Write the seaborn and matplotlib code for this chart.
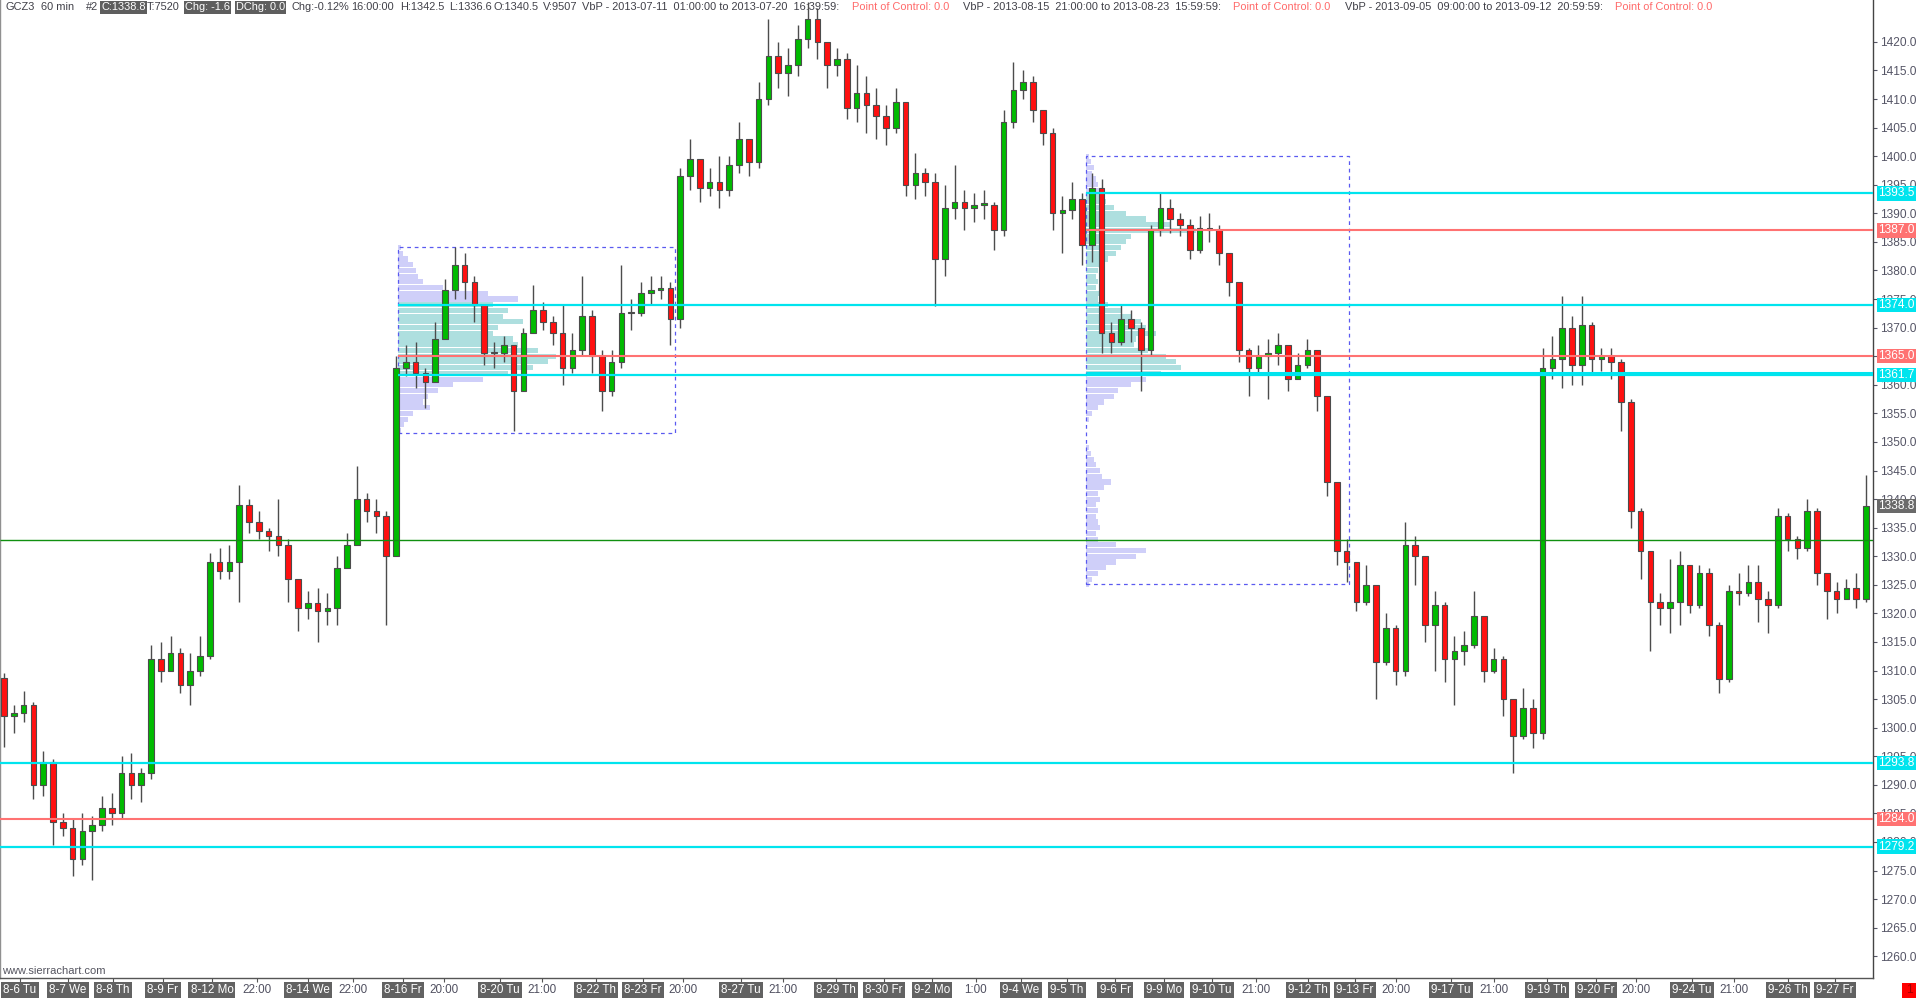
import numpy as np
import pandas as pd
import matplotlib
matplotlib.use("Agg")
import matplotlib.pyplot as plt
import seaborn as sns
from matplotlib.transforms import blended_transform_factory
from matplotlib.patches import Rectangle

# ---------------- data ----------------
first_open = 1308.7
closes = [1302.0, 1302.5, 1304.0, 1290.0, 1294.0, 1283.5, 1282.5, 1277.0, 1282.0, 1283.0,
          1286.0, 1285.0, 1292.0, 1290.0, 1292.0, 1312.0, 1310.0, 1313.0, 1307.5, 1310.0,
          1312.5, 1329.0, 1327.5, 1329.0, 1339.0, 1336.0, 1334.5, 1333.5, 1332.0, 1326.0,
          1321.0, 1321.8, 1320.5, 1321.0, 1328.0, 1332.0, 1340.0, 1338.0, 1337.0, 1330.0,
          1363.0, 1364.0, 1362.0, 1360.5, 1368.0, 1376.5, 1381.0, 1378.0, 1374.0, 1365.5,
          1365.5, 1367.0, 1359.0, 1369.0, 1373.0, 1371.0, 1369.0, 1363.0, 1366.0, 1372.0,
          1365.0, 1359.0, 1364.0, 1372.5, 1372.5, 1376.0, 1376.5, 1377.0, 1371.5, 1396.5,
          1399.5, 1394.5, 1395.5, 1394.0, 1398.5, 1403.0, 1399.0, 1410.0, 1417.5, 1414.5,
          1416.0, 1420.5, 1424.0, 1420.0, 1416.0, 1417.0, 1408.5, 1411.0, 1409.0, 1407.0,
          1405.0, 1409.5, 1395.0, 1397.0, 1395.5, 1382.0, 1391.0, 1392.0, 1391.0, 1391.5,
          1391.5, 1387.0, 1406.0, 1411.5, 1413.0, 1408.0, 1404.0, 1390.0, 1390.5, 1392.5,
          1384.5, 1394.5, 1369.0, 1367.5, 1371.5, 1370.0, 1366.0, 1387.0, 1391.0, 1389.0,
          1388.0, 1383.5, 1387.5, 1387.0, 1383.0, 1378.0, 1366.0, 1363.0, 1365.0, 1365.5,
          1367.0, 1361.0, 1363.5, 1366.0, 1358.0, 1343.0, 1331.0, 1329.0, 1322.0, 1325.0,
          1311.5, 1317.5, 1310.0, 1332.0, 1330.0, 1318.0, 1321.5, 1312.0, 1313.5, 1314.5,
          1319.5, 1310.0, 1312.0, 1305.0, 1298.5, 1303.5, 1299.0, 1363.0, 1364.5, 1370.0,
          1363.5, 1370.5, 1364.5, 1365.0, 1364.0, 1357.0, 1338.0, 1331.0, 1322.0, 1321.0,
          1322.0, 1328.5, 1321.5, 1327.0, 1318.0, 1308.5, 1324.0, 1323.5, 1325.5, 1322.5,
          1321.5, 1337.0, 1333.0, 1331.5, 1338.0, 1327.0, 1324.0, 1322.5, 1324.5, 1322.5,
          1338.8]
highs = [1309.5, 1304.0, 1306.5, 1304.5, 1296.0, 1294.5, 1285.0, 1284.0, 1285.0, 1284.5,
         1288.0, 1288.5, 1295.0, 1295.5, 1293.0, 1314.5, 1315.0, 1316.0, 1314.0, 1313.0,
         1316.0, 1330.5, 1331.5, 1332.0, 1342.5, 1340.0, 1338.0, 1335.0, 1340.0, 1333.0,
         1324.0, 1324.0, 1324.5, 1323.5, 1330.0, 1334.0, 1345.8, 1341.0, 1340.0, 1338.0,
         1365.0, 1367.0, 1367.5, 1363.0, 1371.0, 1378.5, 1384.1, 1383.0, 1379.0, 1373.0,
         1367.5, 1368.5, 1367.0, 1370.0, 1377.5, 1374.5, 1372.0, 1374.0, 1369.0, 1379.0,
         1373.0, 1366.0, 1366.0, 1381.0, 1375.0, 1378.0, 1379.0, 1379.0, 1378.0, 1398.0,
         1403.0, 1399.0, 1398.0, 1400.0, 1400.0, 1406.0, 1403.0, 1413.0, 1424.0, 1420.0,
         1419.0, 1423.0, 1427.0, 1426.0, 1420.0, 1419.0, 1418.0, 1416.0, 1414.0, 1412.0,
         1409.0, 1412.0, 1409.5, 1400.5, 1398.0, 1397.0, 1395.0, 1398.5, 1394.0, 1393.5,
         1394.0, 1392.0, 1408.0, 1416.5, 1415.0, 1414.0, 1408.0, 1405.0, 1393.0, 1395.5,
         1393.5, 1397.0, 1396.0, 1371.0, 1374.0, 1373.0, 1371.0, 1388.0, 1393.5, 1392.5,
         1390.0, 1389.0, 1389.5, 1390.0, 1388.0, 1383.0, 1378.0, 1366.5, 1367.0, 1368.0,
         1369.0, 1367.0, 1365.5, 1368.0, 1366.0, 1358.0, 1343.0, 1333.0, 1329.0, 1328.5,
         1325.0, 1320.0, 1318.0, 1336.0, 1333.5, 1330.0, 1324.0, 1322.0, 1316.0, 1317.0,
         1324.0, 1319.5, 1314.0, 1312.5, 1305.0, 1307.0, 1305.0, 1366.5, 1368.5, 1375.5,
         1372.0, 1375.5, 1371.0, 1366.5, 1366.5, 1364.5, 1357.5, 1338.5, 1331.0, 1323.5,
         1329.5, 1331.0, 1328.5, 1328.5, 1328.0, 1318.5, 1325.0, 1327.0, 1328.5, 1328.5,
         1324.0, 1338.5, 1337.5, 1333.5, 1340.0, 1338.5, 1327.0, 1325.5, 1326.0, 1327.0,
         1344.2]
lows = [1296.6, 1299.0, 1301.0, 1287.5, 1288.0, 1279.5, 1281.0, 1274.0, 1276.0, 1273.4,
        1282.0, 1283.0, 1284.0, 1287.5, 1287.0, 1291.0, 1308.0, 1310.0, 1306.0, 1304.0,
        1309.0, 1312.0, 1326.0, 1326.0, 1322.0, 1334.0, 1333.0, 1331.0, 1330.0, 1322.0,
        1317.0, 1319.0, 1315.0, 1318.0, 1318.0, 1328.0, 1333.0, 1336.0, 1334.0, 1318.0,
        1330.0, 1361.5, 1359.5, 1356.0, 1361.0, 1368.0, 1375.0, 1375.0, 1371.0, 1363.5,
        1363.0, 1364.0, 1352.0, 1359.0, 1370.0, 1369.5, 1367.0, 1360.0, 1362.0, 1365.0,
        1362.0, 1355.5, 1358.0, 1363.0, 1369.5, 1372.0, 1374.0, 1375.0, 1367.0, 1370.0,
        1394.0, 1392.0, 1393.0, 1391.0, 1393.0, 1397.0, 1396.5, 1398.0, 1409.0, 1412.0,
        1410.5, 1414.0, 1419.0, 1417.0, 1412.0, 1414.0, 1406.5, 1406.0, 1404.0, 1403.0,
        1402.0, 1404.0, 1393.0, 1392.5, 1393.0, 1373.7, 1379.0, 1389.0, 1387.0, 1388.5,
        1389.0, 1383.5, 1386.0, 1405.0, 1410.0, 1406.0, 1402.0, 1387.0, 1383.0, 1389.0,
        1381.0, 1381.5, 1365.5, 1365.5, 1367.0, 1367.5, 1359.0, 1365.0, 1386.0, 1386.5,
        1386.0, 1382.0, 1383.0, 1385.0, 1381.0, 1375.5, 1364.0, 1358.0, 1362.0, 1357.5,
        1363.5, 1359.0, 1361.0, 1363.0, 1355.5, 1340.5, 1328.5, 1325.5, 1320.5, 1321.5,
        1305.0, 1311.0, 1307.5, 1309.0, 1325.0, 1315.0, 1310.0, 1308.0, 1304.0, 1311.0,
        1314.0, 1308.0, 1309.5, 1302.0, 1292.0, 1298.0, 1296.5, 1298.0, 1361.0, 1359.5,
        1360.0, 1360.0, 1362.0, 1362.5, 1361.0, 1352.0, 1335.0, 1326.0, 1313.5, 1318.0,
        1316.5, 1318.0, 1320.0, 1321.0, 1316.0, 1306.0, 1308.0, 1321.5, 1323.0, 1318.5,
        1316.5, 1321.0, 1331.0, 1329.5, 1331.0, 1325.0, 1319.0, 1320.0, 1322.5, 1321.0,
        1322.0]

# bottom time axis labels and the bar where each one sits
axis_labels = ["8-6 Tu", "8-7 We", "8-8 Th", "8-9 Fr", "8-12 Mo", "22:00", "8-14 We", "22:00",
               "8-16 Fr", "20:00", "8-20 Tu", "21:00", "8-22 Th", "8-23 Fr", "20:00",
               "8-27 Tu", "21:00", "8-29 Th", "8-30 Fr", "9-2 Mo", "1:00", "9-4 We", "9-5 Th",
               "9-6 Fr", "9-9 Mo", "9-10 Tu", "21:00", "9-12 Th", "9-13 Fr", "20:00",
               "9-17 Tu", "21:00", "9-19 Th", "9-20 Fr", "20:00", "9-24 Tu", "21:00",
               "9-26 Th", "9-27 Fr"]
axis_label_bars = [1.63, 6.53, 11.12, 16.22, 21.22, 25.82, 31.02, 35.61, 40.71, 44.9, 50.61,
                   54.9, 60.41, 65.2, 69.29, 75.2, 79.49, 84.9, 89.8, 94.69, 99.18, 103.78,
                   108.47, 113.37, 118.37, 123.27, 127.76, 133.06, 137.86, 142.04, 147.65,
                   152.04, 157.45, 162.45, 166.53, 172.24, 176.53, 182.04, 186.84]

# volume profiles (one value per 1.0 price level, low -> high)
profile1_low, profile1_high = 1352, 1384
profile1_volume = [3, 6, 10, 15, 32, 25, 30, 40, 55, 85, 110, 135, 150, 158, 140, 120, 115, 95,
                   100, 125, 105, 110, 95, 120, 90, 45, 25, 20, 18, 15, 10, 5, 3]
profile1_va = (1361.7, 1374.0)
profile1_poc = 1365.0
profile1_bars = (40.2, 68.5)
profile1_range = (1351.6, 1384.1)

profile2_low, profile2_high = 1325, 1400
profile2_volume = [3, 6, 12, 20, 30, 50, 60, 30, 12, 10, 14, 12, 10, 12, 10, 14, 12, 18, 25, 16,
                   14, 10, 8, 5, 3, 0, 0, 0, 0, 3, 6, 12, 18, 28, 32, 45, 60, 75, 95, 90, 80,
                   62, 48, 50, 70, 60, 55, 45, 35, 22, 12, 14, 10, 12, 10, 12, 15, 22, 30, 35,
                   40, 45, 110, 85, 60, 40, 28, 20, 18, 14, 12, 10, 6, 8, 5, 3]
profile2_va = (1362.0, 1393.5)
profile2_poc = 1387.0
profile2_bars = (110.4, 137.2)
profile2_range = (1325.1, 1400.0)

# earlier profile (2013-07-11 .. 07-20) levels, drawn across the whole chart
old_vah, old_poc, old_val = 1293.8, 1284.0, 1279.2
green_level = 1332.8
last_price = 1338.8

# ---------------- style ----------------
sns.set_theme(style="white")
NARROW = ['Liberation Sans Narrow', 'Liberation Sans', 'DejaVu Sans']
plt.rcParams['font.family'] = NARROW

CYAN = '#00e4ee'
SALMON = '#ff7272'
LAV = '#cfcff9'
TEAL = '#aedfdf'
UPC = '#00bb00'
DNC = '#ff1010'
OUTL = '#4c4c4c'
TXT = '#404048'

W, H = 1916, 998
fig = plt.figure(figsize=(W / 100, H / 100), dpi=100)
fig.patch.set_facecolor('white')
ax = fig.add_axes([0, 20 / H, 1873 / W, 978 / H])
ax.set_facecolor('white')

BAR_PX = 9.8
ax.set_xlim(-4 / BAR_PX, (1873 - 4) / BAR_PX)
ax.set_ylim(1256.2, 1427.33)

# ---- volume profiles ----
def draw_profile(low, high, vols, va, bars, prange):
    levels = np.arange(low, high + 1)
    vols = np.asarray(vols, dtype=float)
    cols = [TEAL if va[0] - 0.5 <= p <= va[1] + 0.3 else LAV for p in levels]
    ax.barh(levels, vols / BAR_PX, left=bars[0], height=0.9, color=cols,
            edgecolor='none', zorder=1)
    ax.add_patch(Rectangle((bars[0], prange[0]), bars[1] - bars[0], prange[1] - prange[0],
                           fill=False, edgecolor='#5a5af0', linestyle=(0, (3, 3)),
                           linewidth=0.9, zorder=3))

draw_profile(profile1_low, profile1_high, profile1_volume, profile1_va, profile1_bars, profile1_range)
draw_profile(profile2_low, profile2_high, profile2_volume, profile2_va, profile2_bars, profile2_range)

# ---- candles ----
opens = [first_open] + closes[:-1]
df = pd.DataFrame({'open': opens, 'high': highs, 'low': lows, 'close': closes})
df['bar'] = np.arange(len(df))
df['high'] = df[['high', 'open', 'close']].max(axis=1)
df['low'] = df[['low', 'open', 'close']].min(axis=1)
up = df['close'] >= df['open']
ax.vlines(df['bar'], df['low'], df['high'], color=OUTL, linewidth=1.0, zorder=4)
body_bot = df[['open', 'close']].min(axis=1)
body_h = (df['close'] - df['open']).abs().clip(lower=0.3)
ax.bar(df['bar'], body_h, bottom=body_bot, width=0.58,
       color=np.where(up, UPC, DNC), edgecolor=OUTL, linewidth=0.8, zorder=5)

# ---- horizontal levels ----
xr = ax.get_xlim()[1]
xl = ax.get_xlim()[0]
ax.hlines(profile1_va[1], profile1_bars[0], xr, color=CYAN, lw=1.6, zorder=6)
ax.hlines(profile1_poc, profile1_bars[0], xr, color=SALMON, lw=1.5, zorder=6)
ax.hlines(profile1_va[0], profile1_bars[0], xr, color=CYAN, lw=1.6, zorder=6)
ax.hlines(profile2_va[1], profile2_bars[0], xr, color=CYAN, lw=1.6, zorder=6)
ax.hlines(profile2_poc, profile2_bars[0], xr, color=SALMON, lw=1.5, zorder=6)
ax.hlines(profile2_va[0], profile2_bars[0], xr, color=CYAN, lw=2.2, zorder=6)
ax.hlines(old_vah, xl, xr, color=CYAN, lw=1.6, zorder=6)
ax.hlines(old_poc, xl, xr, color=SALMON, lw=1.5, zorder=6)
ax.hlines(old_val, xl, xr, color=CYAN, lw=1.6, zorder=6)
ax.hlines(green_level, xl, xr, color='#109010', lw=1.0, zorder=6)

# ---- axes styling ----
ax.spines['top'].set_visible(False)
ax.spines['left'].set_color('#909090')
ax.spines['left'].set_linewidth(1.0)
ax.spines['bottom'].set_color('#555555')
ax.spines['bottom'].set_linewidth(1.0)
ax.spines['right'].set_color('#444444')
ax.spines['right'].set_linewidth(1.0)

yt = np.arange(1260, 1421, 5)
ax.set_yticks(yt)
ax.set_yticklabels([f"{v:.1f}" for v in yt])
ax.yaxis.tick_right()
ax.tick_params(axis='y', which='both', right=True, left=False, labelright=True, labelleft=False,
               length=3, width=0.8, pad=2, labelsize=8.6, colors='#555566')
ax.set_xticks(axis_label_bars)
ax.tick_params(axis='x', bottom=True, length=3, width=0.8, color='#555555', labelbottom=False)
ax.grid(False)

# bottom labels
xtrans = ax.get_xaxis_transform()
for lab, pos in zip(axis_labels, axis_label_bars):
    if ':' in lab:
        ax.text(pos, -12 / 978, lab, transform=xtrans, ha='center', va='center',
                fontsize=8.4, color='#505060', clip_on=False)
    else:
        ax.text(pos, -12 / 978, lab, transform=xtrans, ha='center', va='center',
                fontsize=8.4, color='white', clip_on=False,
                bbox=dict(boxstyle='square,pad=0.18', fc='#626262', ec='none'))

# right price labels (boxes cover the tick labels behind them, as in the original)
ytrans = blended_transform_factory(ax.transAxes, ax.transData)
right_labels = [(profile2_va[1], CYAN), (profile2_poc, SALMON), (profile1_va[1], CYAN),
                (profile1_poc, SALMON), (profile1_va[0], CYAN), (last_price, '#6a6a6a'),
                (old_vah, CYAN), (old_poc, SALMON), (old_val, CYAN)]
for val, col in right_labels:
    ax.text(1.0 + 5 / 1873, val, f"{val:.1f}", transform=ytrans, ha='left', va='center',
            fontsize=8.6, color='white', clip_on=False, zorder=20,
            bbox=dict(boxstyle='square,pad=0.1', fc=col, ec='none'))

# ---- header ----
def ftext(x, y, s, color=TXT, box=None, size=7.9):
    kw = {}
    if box:
        kw['bbox'] = dict(boxstyle='square,pad=0.1', fc=box, ec='none')
    fig.text(x / W, 1 - y / H, s, color=color, fontsize=size, ha='left', va='center', **kw)

HY = 7.5
ftext(6, HY, "GCZ3")
ftext(41, HY, "60 min")
ftext(86, HY, "#2")
ftext(101, HY, "C:1338.8", color='white', box='#5e5e5e')
ftext(147, HY, "T:7520")
ftext(185, HY, "Chg: -1.6", color='white', box='#5e5e5e')
ftext(236, HY, "DChg: 0.0", color='white', box='#5e5e5e')
ftext(291, HY, "Chg:-0.12%")
ftext(351, HY, "16:00:00")
ftext(400, HY, "H:1342.5")
ftext(449, HY, "L:1336.6")
ftext(494, HY, "O:1340.5")
ftext(543, HY, "V:9507")
ftext(582, HY, "VbP - 2013-07-11  01:00:00 to 2013-07-20  16:39:59:")
ftext(852, HY, "Point of Control: 0.0", color='#ff6a6a')
ftext(963, HY, "VbP - 2013-08-15  21:00:00 to 2013-08-23  15:59:59:")
ftext(1233, HY, "Point of Control: 0.0", color='#ff6a6a')
ftext(1345, HY, "VbP - 2013-09-05  09:00:00 to 2013-09-12  20:59:59:")
ftext(1615, HY, "Point of Control: 0.0", color='#ff6a6a')

ftext(2, 971, "www.sierrachart.com", color='#555560', size=8.0)

fig.patches.append(Rectangle((1902 / W, 0), 14 / W, 15 / H, transform=fig.transFigure,
                             facecolor='#ff0000', edgecolor='none'))
fig.text(1909 / W, 1 - 990 / H, "1", color='#a00000', fontsize=8.6, ha='center', va='center')

fig.savefig("out.png", dpi=100, facecolor='white')
